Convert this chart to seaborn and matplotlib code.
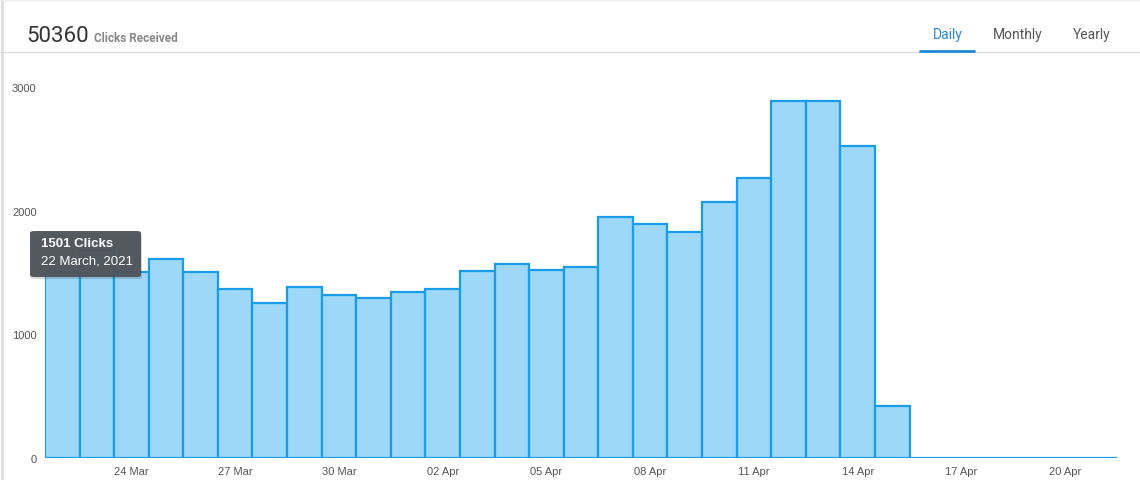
import pandas as pd
import matplotlib.pyplot as plt
import seaborn as sns
from matplotlib.patches import FancyBboxPatch
from matplotlib.lines import Line2D

# 每日点击数据 (22 Mar - 21 Apr 2021)
days = pd.date_range('2021-03-22', '2021-04-21', freq='D')
clicks = [1501, 1685, 1505, 1613, 1508, 1368, 1252, 1379, 1315, 1290,
          1339, 1363, 1516, 1565, 1524, 1548, 1952, 1895, 1831, 2073,
          2268, 2887, 2890, 2526, 419, 0, 0, 0, 0, 0, 0]
tick_days = ['24 Mar', '27 Mar', '30 Mar', '02 Apr', '05 Apr',
             '08 Apr', '11 Apr', '14 Apr', '17 Apr', '20 Apr']
y_ticks = [0, 1000, 2000, 3000]
total = 50360
tabs = ['Daily', 'Monthly', 'Yearly']

sns.set_style('white')
plt.rcParams['font.family'] = ['Roboto', 'DejaVu Sans']

df = pd.DataFrame({'day': days.strftime('%d %b'), 'clicks': clicks})

fig = plt.figure(figsize=(11.4, 4.81), dpi=100)
ax = fig.add_axes([45 / 1140, 22 / 481, 1072 / 1140, (457 - 86) / 481])
sns.barplot(data=df, x='day', y='clicks', width=1.0, color='#9dd8f8',
            saturation=1, edgecolor='#1a9de8', linewidth=1.6, ax=ax)
ax.set_xlim(-0.5, len(clicks) - 0.5)
ax.set_ylim(0, 3000)
pos = [list(df['day']).index(t) for t in tick_days]
ax.set_xticks(pos)
ax.set_xticklabels(tick_days, fontsize=8, color='#555555', family='Liberation Sans')
ax.set_yticks(y_ticks)
ax.set_yticklabels([str(v) for v in y_ticks], fontsize=8, color='#555555',
                   family='Liberation Sans')
ax.tick_params(length=0, pad=6)
ax.set_xlabel('')
ax.set_ylabel('')
sns.despine(ax=ax, left=True, bottom=True)

# 标题区域
fig.text(26 / 1140, 1 - 37 / 481, str(total), fontsize=16, color='#333333', va='center')
fig.text(94 / 1140, 1 - 38 / 481, 'Clicks Received', fontsize=8.5, color='#888888',
         fontweight='bold', va='center')
tab_x = [948, 1018, 1092]
for i, (t, x) in enumerate(zip(tabs, tab_x)):
    fig.text(x / 1140, 1 - 35 / 481, t, fontsize=10, ha='center', va='center',
             color='#2b88d8' if i == 0 else '#555555')
fig.add_artist(Line2D([0, 1], [1 - 52.5 / 481] * 2, color='#dddddd', lw=1))
fig.add_artist(Line2D([920 / 1140, 974 / 1140], [1 - 51.5 / 481] * 2, color='#1e88d8', lw=2))
fig.add_artist(Line2D([1.5 / 1140] * 2, [0, 1], color='#dddddd', lw=2))
fig.add_artist(Line2D([0, 1], [1 - 0.5 / 481] * 2, color='#eeeeee', lw=1))

# 提示框 (带阴影)
shadow = FancyBboxPatch((31 / 1140, 1 - 280 / 481), 111 / 1140, 46 / 481,
                        boxstyle='round,pad=0,rounding_size=0.004',
                        transform=fig.transFigure, facecolor='#000000',
                        edgecolor='none', alpha=0.15, zorder=4)
fig.add_artist(shadow)
box = FancyBboxPatch((30 / 1140, 1 - 278 / 481), 111 / 1140, 46 / 481,
                     boxstyle='round,pad=0,rounding_size=0.004',
                     transform=fig.transFigure, facecolor='#50555c',
                     edgecolor='none', alpha=0.97, zorder=5)
fig.add_artist(box)
fig.text(41 / 1140, 1 - 244 / 481, f'{clicks[0]} Clicks', fontsize=9.5, fontweight='bold',
         color='white', va='center', family='Liberation Sans', zorder=6)
fig.text(41 / 1140, 1 - 262 / 481, '22 March, 2021', fontsize=9.5,
         color='white', va='center', family='Liberation Sans', zorder=6)

fig.savefig('out.png', dpi=100)
